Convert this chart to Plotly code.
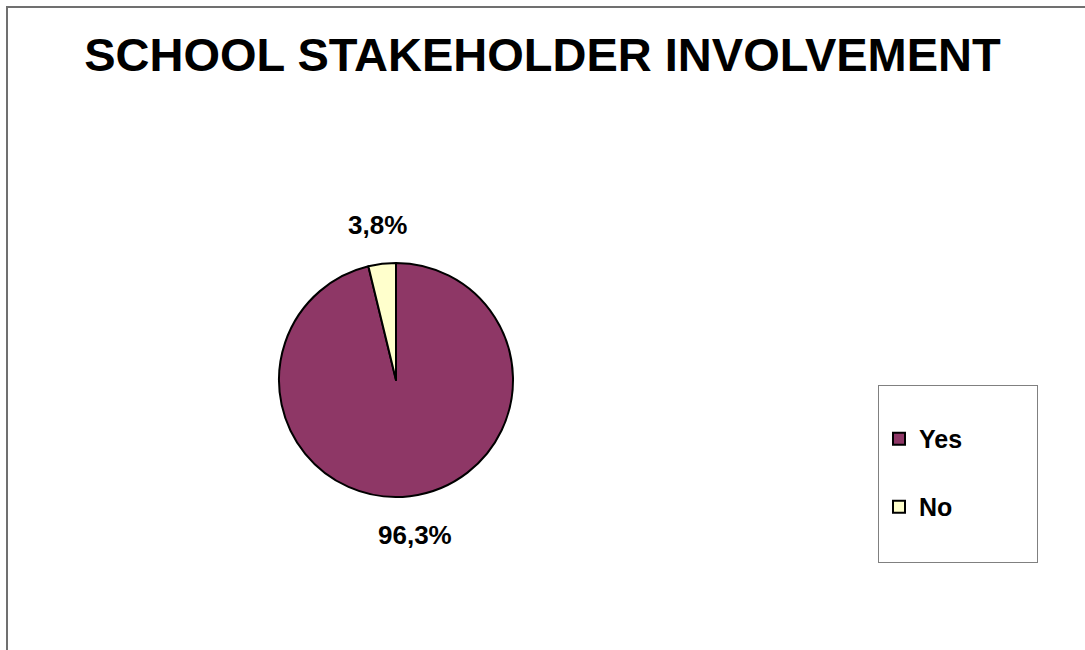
import math
import plotly.graph_objects as go

labels = ["Yes", "No"]
values = [96.3, 3.8]
value_text = ["96,3%", "3,8%"]
colors = ["#8E3766", "#FFFFCC"]

W, H = 1085, 650
cx, cy, r = 396, 380, 117
label_dist = 156

fig = go.Figure()
fig.add_trace(go.Pie(
    labels=[l + "<br> " for l in labels],
    values=values,
    text=value_text,
    textinfo="none",
    marker=dict(colors=colors, line=dict(color="black", width=2)),
    sort=False,
    direction="clockwise",
    rotation=0,
    hoverinfo="label+text",
    domain=dict(x=[(cx - r) / W, (cx + r) / W], y=[(H - cy - r) / H, (H - cy + r) / H]),
))

# data labels placed at each slice's mid-angle, computed from the values
annotations = []
total = sum(values)
cum = 0.0
for v, t in zip(values, value_text):
    mid = (cum + v / 2) / total * 2 * math.pi
    cum += v
    px = cx + label_dist * math.sin(mid)
    py = cy - label_dist * math.cos(mid)
    annotations.append(dict(
        x=px / W, y=1 - py / H, xref="paper", yref="paper",
        text="<b>" + t + "</b>", showarrow=False,
        xanchor="center", yanchor="middle",
        font=dict(family="Liberation Sans, Arial", size=26, color="black"),
    ))

fig.update_layout(
    width=W, height=H,
    margin=dict(l=0, r=0, t=0, b=0),
    paper_bgcolor="white",
    plot_bgcolor="white",
    title=dict(
        text="<b>SCHOOL STAKEHOLDER INVOLVEMENT</b>",
        font=dict(family="Liberation Sans, Arial", size=47, color="black"),
        x=0.5, xanchor="center", y=1 - 55 / H, yanchor="middle",
    ),
    legend=dict(
        x=878 / W, xanchor="left", y=1 - 385 / H, yanchor="top",
        bordercolor="#808080", borderwidth=1, bgcolor="white",
        font=dict(family="Liberation Sans, Arial", size=25, color="black", weight="bold"),
        valign="top",
        title=dict(text="\u00a0" * 24, font=dict(family="Liberation Sans, Arial", size=23)),
    ),
    showlegend=True,
    annotations=annotations,
    shapes=[dict(type="rect", xref="paper", yref="paper",
                 x0=7 / W, x1=1.01, y0=-0.01, y1=1 - 7 / H,
                 line=dict(color="#707070", width=2), layer="below")],
)

fig.write_html("out.html", config={"displayModeBar": False},
               post_script="document.body.style.margin='0';document.body.style.overflow='hidden';")
